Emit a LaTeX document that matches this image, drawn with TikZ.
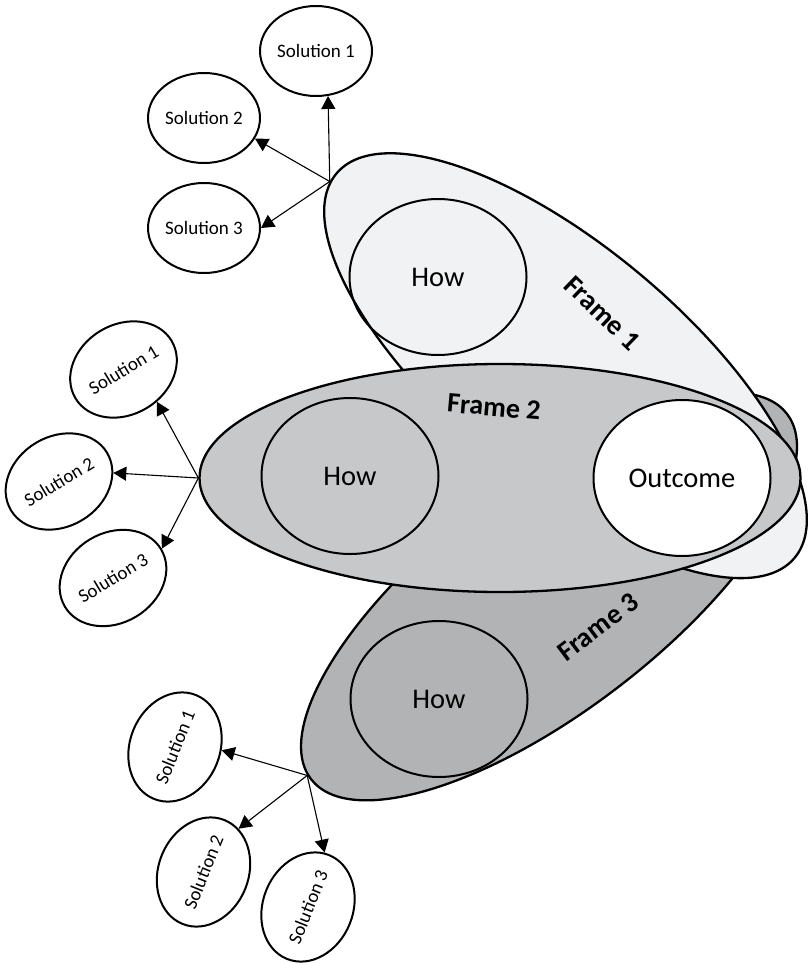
\documentclass[tikz,border=0pt]{standalone}
\usepackage{fontspec}
\setmainfont{Carlito}
\usetikzlibrary{shapes.geometric,arrows.meta}

\definecolor{frameA}{RGB}{241,242,243}
\definecolor{frameB}{RGB}{199,200,202}
\definecolor{frameC}{RGB}{178,179,181}

\begin{document}
\begin{tikzpicture}[x=1pt,y=-1pt,
	frame/.style={ellipse,draw,line width=2.3pt,inner sep=0pt},
	how/.style={ellipse,draw,line width=2pt,minimum width=177pt,minimum height=156pt,inner sep=0pt,font=\fontsize{28.5}{30}\selectfont},
	sol/.style={ellipse,draw,line width=2pt,fill=white,minimum width=112pt,minimum height=90pt,inner sep=0pt,font=\fontsize{19}{21}\selectfont},
	lbl/.style={font=\bfseries\fontsize{28}{30}\selectfont},
	arr/.style={line width=1.1pt,-{Triangle[length=13pt,width=14pt]}}]
		\useasboundingbox (0,0) rectangle (807,963);
		
		% frame 3 at the back
		\node[frame,fill=frameC,minimum width=600pt,minimum height=228pt,rotate=37.5] (f3) at (549,596.5) {};
		\node[how] (how3) at (439,699) {How};
		\node[lbl,rotate=37] (lbl3) at (598,627) {Frame 3};
		
		% frame 1
		\node[frame,fill=frameA,minimum width=598pt,minimum height=236pt,rotate=-40] (f1) at (565.5,365.7) {};
		\node[how] (how1) at (438,277) {How};
		\node[lbl,rotate=-44] (lbl1) at (602,313) {Frame 1};
		
		% frame 2 on top
		\node[frame,fill=frameB,minimum width=601pt,minimum height=228pt] (f2) at (500,478) {};
		\node[how] (how2) at (350,476) {How};
		\node[how,fill=white] (out) at (682,478) {Outcome};
		\node[lbl,rotate=-5] (lbl2) at (494,407) {Frame 2};
		
		% solutions of frame 1
		\node[sol] (ts1) at (316,51) {Solution 1};
		\node[sol] (ts2) at (204,118) {Solution 2};
		\node[sol] (ts3) at (204,228) {Solution 3};
		\draw[arr] (f1.182) -- (ts1.-75);
		\draw[arr] (f1.182) -- (ts2.-22);
		\draw[arr] (f1.182) -- (ts3.east);
		
		% solutions of frame 2
		\node[sol,rotate=31] (ms1) at (123.5,369.5) {Solution 1};
		\node[sol,rotate=31] (ms2) at (59,481.5) {Solution 2};
		\node[sol,rotate=31] (ms3) at (113,578) {Solution 3};
		\draw[arr] (f2.west) -- (ms1.-75);
		\draw[arr] (f2.west) -- (ms2.-22);
		\draw[arr] (f2.west) -- (ms3.east);
		
		% solutions of frame 3
		\node[sol,rotate=68] (bs1) at (175,747) {Solution 1};
		\node[sol,rotate=68] (bs2) at (203.5,872) {Solution 2};
		\node[sol,rotate=68] (bs3) at (308,907) {Solution 3};
		\draw[arr] (f3.179) -- (bs1.-72);
		\draw[arr] (f3.179) -- (bs2.-17);
		\draw[arr] (f3.179) -- (bs3.5);
	\end{tikzpicture}
\end{document}
